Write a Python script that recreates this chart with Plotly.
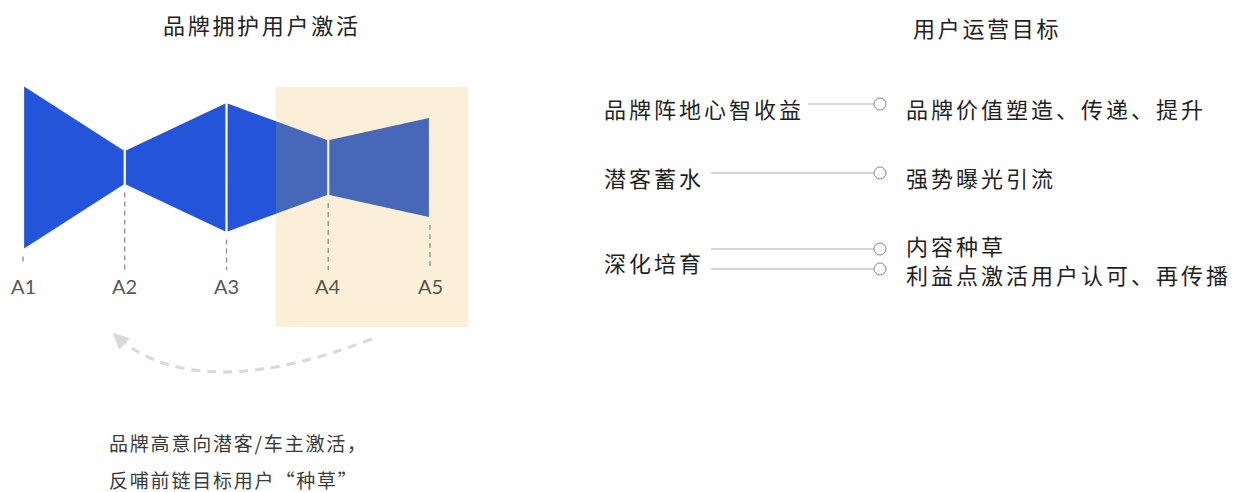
import plotly.graph_objects as go

# ---------------- data ----------------
stages = ["A1", "A2", "A3", "A4", "A5"]
stage_height = [162, 34, 128, 55, 99]          # funnel thickness at each stage
left_title = "品牌拥护用户激活"
right_title = "用户运营目标"
goals = ["品牌阵地心智收益", "潜客蓄水", "深化培育"]
actions = [["品牌价值塑造、传递、提升"], ["强势曝光引流"], ["内容种草", "利益点激活用户认可、再传播"]]
note_lines = ["品牌高意向潜客/车主激活，", "反哺前链目标用户“种草”"]

# ---------------- layout constants ----------------
W, H = 1238, 492
OFF = 8               # page body margin
PITCH = 101.75        # px between stages
X0 = 23               # px of first stage
YC = 167.5            # px of funnel centre line
BLUE = "#2454D9"
BLUE_HL = "#4767B8"
HL_L, HL_R, HL_T, HL_B = 276, 468, 87, 327
CJK = "Noto Sans CJK SC"


def sp(t, ls):
    return f'<span style="letter-spacing:{ls}px">{t}</span>'


fig = go.Figure()

# funnel polygons (on x2/y2: stage index vs thickness units)
g = 1.1 / PITCH
top = [h / 2 for h in stage_height]
bot = [-h / 2 for h in stage_height]
hl_stage = (HL_L - X0) / PITCH


def poly(xa, xb, ta, tb, ba, bb, color):
    fig.add_trace(go.Scatter(x=[xa, xb, xb, xa, xa], y=[ta, tb, bb, ba, ta],
                             fill="toself", fillcolor=color, mode="lines",
                             line=dict(width=0), xaxis="x2", yaxis="y2",
                             hoverinfo="skip", showlegend=False))


for i in range(len(stages) - 1):
    xa, xb = i + g, i + 1 - g
    if xa < hl_stage < xb:
        f = (hl_stage - i)
        tm = top[i] + (top[i + 1] - top[i]) * f
        bm = bot[i] + (bot[i + 1] - bot[i]) * f
        poly(xa, hl_stage, top[i], tm, bot[i], bm, BLUE)
        poly(hl_stage, xb, tm, top[i + 1], bm, bot[i + 1], BLUE_HL)
    else:
        color = BLUE_HL if xa >= hl_stage else BLUE
        poly(xa, xb, top[i], top[i + 1], bot[i], bot[i + 1], color)

# dashed drop lines + stage labels
line_end = YC - 270
for i, s in enumerate(stages):
    y_start = bot[i] - 8
    y_end = line_end if i > 0 else bot[i] - 14
    fig.add_trace(go.Scatter(x=[i, i], y=[y_start, y_end], mode="lines",
                             line=dict(color="#8C8C8C", width=1.3, dash="5px,4px"),
                             xaxis="x2", yaxis="y2", hoverinfo="skip", showlegend=False))
    fig.add_annotation(x=i, y=YC - 286, xref="x2", yref="y2", text=s, showarrow=False,
                       font=dict(family="Lato", size=20, color="rgba(40,40,40,0.8)"),
                       xanchor="center", yanchor="middle")

shapes = []
# highlight rect
shapes.append(dict(type="rect", xref="x", yref="y", x0=HL_L, x1=HL_R, y0=HL_T, y1=HL_B,
                   fillcolor="#FBF0D7", line=dict(width=0), layer="below"))
# dashed arc with arrow head
shapes.append(dict(type="path", xref="x", yref="y", path="M 372 339 Q 206 402.5 125 343.5",
                   line=dict(color="#D9D9D9", width=3, dash="9px,7px"), layer="above"))
shapes.append(dict(type="path", xref="x", yref="y",
                   path="M 113.5 333.5 L 129 338.5 L 119.5 349 Z",
                   fillcolor="#D9D9D9", line=dict(color="#D9D9D9", width=1), layer="above"))

# right side: goals, connectors, circles, actions
sub_y = [[104], [173], [249, 269]]
text_y = [[107.5], [176.5], [244.5, 274]]
goal_y = [107.5, 176.5, 261.5]
line_start = [808, 711, 711]
for k, goal in enumerate(goals):
    fig.add_annotation(x=602, y=goal_y[k], xref="x", yref="y", text=sp(goal, 3),
                       showarrow=False, xanchor="left", yanchor="middle",
                       font=dict(family=CJK, size=22, color="#1F1F1F"))
    for j, act in enumerate(actions[k]):
        yy = sub_y[k][j]
        shapes.append(dict(type="line", xref="x", yref="y", x0=line_start[k], x1=874,
                           y0=yy, y1=yy, line=dict(color="#C8C8C8", width=1.3)))
        shapes.append(dict(type="circle", xref="x", yref="y", x0=874, x1=886,
                           y0=yy - 6, y1=yy + 6, fillcolor="white",
                           line=dict(color="#8A8A8A", width=1)))
        fig.add_annotation(x=904, y=text_y[k][j], xref="x", yref="y", text=sp(act, 3),
                           showarrow=False, xanchor="left", yanchor="middle",
                           font=dict(family=CJK, size=22, color="#1F1F1F"))

# titles
fig.add_annotation(x=262, y=23.5, xref="x", yref="y", text=sp(left_title, 2.7), showarrow=False,
                   xanchor="center", yanchor="middle", font=dict(family=CJK, size=22, color="#222"))
fig.add_annotation(x=987, y=26.5, xref="x", yref="y", text=sp(right_title, 2.7), showarrow=False,
                   xanchor="center", yanchor="middle", font=dict(family=CJK, size=22, color="#222"))

# note
for n, t in enumerate(note_lines):
    fig.add_annotation(x=107, y=442 + 37 * n, xref="x", yref="y", text=sp(t, 1.8), showarrow=False,
                       xanchor="left", yanchor="middle", font=dict(family=CJK, size=19, color="#3A3A3A"))

fig.update_layout(
    width=W, height=H, margin=dict(l=0, r=0, t=0, b=0),
    paper_bgcolor="white", plot_bgcolor="white", showlegend=False,
    shapes=shapes,
    xaxis=dict(range=[OFF, W + OFF], visible=False, fixedrange=True),
    yaxis=dict(range=[H + OFF, OFF], visible=False, fixedrange=True),
    xaxis2=dict(range=[(OFF - X0) / PITCH, (OFF + W - X0) / PITCH], visible=False,
                overlaying="x", anchor="y"),
    yaxis2=dict(range=[YC - OFF - H, YC - OFF], visible=False, overlaying="y", anchor="x"),
)

fig.write_html("out.html")
